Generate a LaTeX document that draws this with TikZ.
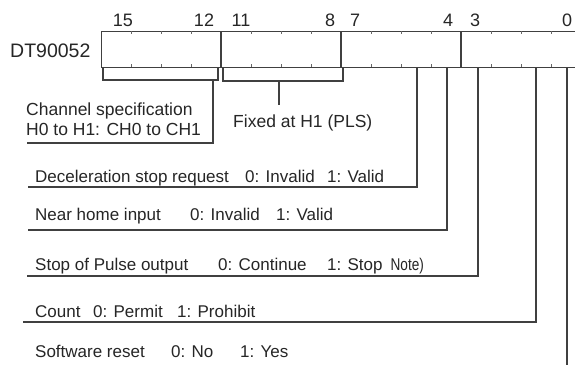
\documentclass[tikz,border=0pt]{standalone}
\usepackage{fontspec}
\usepackage{graphicx}
\setmainfont{Liberation Sans}
\begin{document}
\begin{tikzpicture}[x=1pt,y=-1pt]
\tikzset{
  wire/.style={draw=black!75, line width=1.3pt},
  tick/.style={draw=black!60, line width=0.8pt},
  lbl/.style={anchor=base west, inner sep=0pt, text=black!85, font=\fontsize{17}{20}\selectfont},
  num/.style={anchor=base, inner sep=0pt, text=black!85, font=\fontsize{18}{21}\selectfont},
  regbox/.style={draw=black!75, line width=1.3pt, minimum width=480pt, minimum height=36pt, anchor=north west, inner sep=0pt}
}
\useasboundingbox (0,0) rectangle (575,364);
\fill[white] (0,0) rectangle (575,364);
% register
\node[regbox] (reg) at (101,31) {};
\foreach \i in {0,...,16} {
  \coordinate (t\i) at (101+30*\i,31);
  \coordinate (b\i) at (101+30*\i,67);
}
\foreach \i in {1,2,3,5,6,7,9,10,11,13,14,15} {
  \draw[tick] (t\i) -- ++(0,3);
  \draw[tick] (b\i) -- ++(0,-3);
}
\draw[wire] (t4) -- (b4);
\draw[wire] (t8) -- (b8);
\draw[wire] (t12) -- (b12);
% bit numbers
\node[num] (n15) at (123,27) {15};
\node[num] (n12) at (204,27) {12};
\node[num] (n11) at (241,27) {11};
\node[num] (n8) at (330,27) {8};
\node[num] (n7) at (355,27) {7};
\node[num] (n4) at (448,27) {4};
\node[num] (n3) at (475,27) {3};
\node[num] (n0) at (567,27) {0};
\node[lbl, font=\fontsize{19.5}{22}\selectfont] (dt) at (10,57) {DT90052};
% bracket 1 : channel specification
\coordinate (br1a) at (103,68);
\coordinate (br1b) at (218,68);
\draw[wire] (br1a) |- (213,80) -| (br1b);
\coordinate (br1s) at (213,80);
\coordinate (chL) at (27,143);
\draw[wire] (br1s) |- (chL);
\node[lbl, font=\fontsize{17.5}{20}\selectfont] (ch1) at (26,115) {Channel specification};
\node[lbl, font=\fontsize{17.5}{20}\selectfont] (ch2) at (26,135) {H0 to H1: CH0 to CH1};
% bracket 2 : fixed
\coordinate (br2a) at (223,68);
\coordinate (br2b) at (343,68);
\draw[wire] (br2a) |- (279,81) -| (br2b);
\coordinate (br2s) at (279,81);
\coordinate (br2e) at (279,105);
\draw[wire] (br2s) -- (br2e);
\node[lbl, font=\fontsize{17.5}{20}\selectfont] (fx) at (233,127) {Fixed at H1 (PLS)};
% bit lines
\coordinate (bit5) at (417,67);
\coordinate (bit4) at (447,67);
\coordinate (bit3) at (478,67);
\coordinate (bit1) at (536,67);
\coordinate (bit0) at (567,67);
\coordinate (decL) at (28,187);
\coordinate (nhL) at (28,230);
\coordinate (spL) at (27,276);
\coordinate (cnL) at (23,322);
\coordinate (srE) at (567,370);
\draw[wire] (bit5) |- (decL);
\draw[wire] (bit4) |- (nhL);
\draw[wire] (bit3) |- (spL);
\draw[wire] (bit1) |- (cnL);
\draw[wire] (bit0) -- (srE);
% labels
\node[lbl] (dec) at (35,182) {\makebox[210pt][l]{Deceleration stop request}\makebox[82pt][l]{0: Invalid}1: Valid};
\node[lbl] (nh) at (35,220) {\makebox[155pt][l]{Near home input}\makebox[86pt][l]{0: Invalid}1: Valid};
\node[lbl] (sp) at (35,270) {\makebox[183pt][l]{Stop of Pulse output}\makebox[109pt][l]{0: Continue}1: Stop\hspace{8pt}\scalebox{0.8}[1]{Note)}};
\node[lbl] (cn) at (35,317) {\makebox[58pt][l]{Count}\makebox[84pt][l]{0: Permit}1: Prohibit};
\node[lbl] (sr) at (35,357) {\makebox[136pt][l]{Software reset}\makebox[69pt][l]{0: No}1: Yes};
\end{tikzpicture}
\end{document}
